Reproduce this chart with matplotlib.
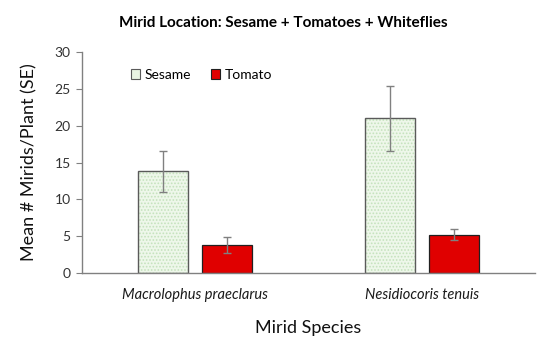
import numpy as np
import matplotlib
matplotlib.use('Agg')
import matplotlib.pyplot as plt
from matplotlib.patches import Patch

plt.rcParams['font.family'] = ['Lato', 'DejaVu Sans']
plt.rcParams['hatch.linewidth'] = 0.8

species = ['Macrolophus praeclarus', 'Nesidiocoris tenuis']
sesame_mean = [13.8, 21.0]
sesame_se = [2.8, 4.4]
tomato_mean = [3.8, 5.2]
tomato_se = [1.1, 0.75]

fig = plt.figure(figsize=(5.5, 3.48), dpi=100)
ax = fig.add_axes([0.149, 0.2155, 0.824, 0.635])

x = np.arange(len(species))
w = 0.22
off = 0.141

# dotted light-green fill, then the dark outline on top
ax.bar(x - off, sesame_mean, w, color='#eef7ea', edgecolor='#c5e2bd', linewidth=0,
       hatch='.....')
ax.bar(x - off, sesame_mean, w, color='none', edgecolor='#5a5a5a', linewidth=1.0)
ax.bar(x + off, tomato_mean, w, color='#e00000', edgecolor='#202020', linewidth=0.9)
ax.errorbar(x - off, sesame_mean, yerr=sesame_se, fmt='none', ecolor='#808080',
            elinewidth=1.0, capsize=3, capthick=1.0)
ax.errorbar(x + off, tomato_mean, yerr=tomato_se, fmt='none', ecolor='#808080',
            elinewidth=1.0, capsize=3, capthick=1.0)

ax.set_xlim(-0.5, 1.5)
ax.set_ylim(0, 30)
ax.set_yticks([0, 5, 10, 15, 20, 25, 30])
ax.set_xticks(x)
ax.set_xticklabels(species, fontstyle='italic', fontsize=10.5, color='#1a1a1a')
ax.tick_params(axis='x', length=0, pad=11)
ax.tick_params(axis='y', length=4, color='#808080', labelsize=10, labelcolor='#333333', pad=4)
for s in ['top', 'right']:
    ax.spines[s].set_visible(False)
for s in ['left', 'bottom']:
    ax.spines[s].set_color('#808080')
    ax.spines[s].set_linewidth(1.0)

ax.set_ylabel('Mean # Mirids/Plant (SE)', fontsize=13, color='#111111', labelpad=12)
ax.set_xlabel('Mirid Species', fontsize=13, color='#111111', labelpad=13)
fig.suptitle('Mirid Location: Sesame + Tomatoes + Whiteflies', fontsize=11,
             fontweight='bold', x=0.515, y=0.955)

handles = [Patch(facecolor='#e8f3e2', edgecolor='#5a5a5a', linewidth=0.8, label='Sesame'),
           Patch(facecolor='#e00000', edgecolor='#202020', linewidth=0.8, label='Tomato')]
ax.legend(handles=handles, loc='upper left', bbox_to_anchor=(0.08, 0.98), ncol=2,
          frameon=False, fontsize=10, handlelength=0.7, handleheight=0.7,
          handletextpad=0.3, columnspacing=1.4)

fig.savefig('out.png', dpi=100)
